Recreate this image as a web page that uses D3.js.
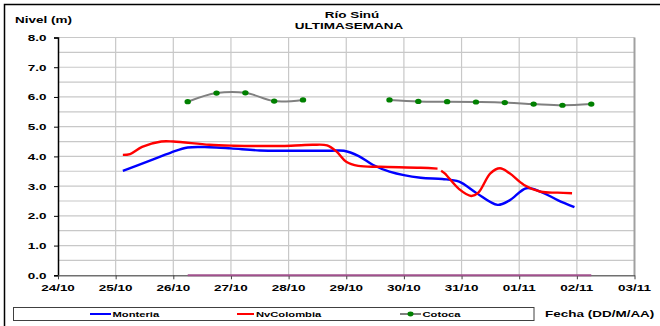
<!DOCTYPE html>
<html>
<head>
<meta charset="utf-8">
<script src="https://cdn.jsdelivr.net/npm/d3@7"></script>
<style>
  html, body { margin: 0; padding: 0; background: #fff; }
  svg { display: block; }
  text { font-family: "Liberation Sans", Arial, sans-serif; font-weight: bold; fill: #000; }
</style>
</head>
<body>
<svg id="chart" width="660" height="326"></svg>
<script>
// ---- data -------------------------------------------------------------
const tickLabels = ["24/10","25/10","26/10","27/10","28/10","29/10","30/10","31/10","01/11","02/11","03/11"];
const yTicks = [0,1,2,3,4,5,6,7,8];

const monteriaTimes = ["25/10 03:00","25/10 14:00","25/10 23:00","26/10 06:00","26/10 15:00","27/10 00:00",
  "27/10 12:00","28/10 00:00","28/10 17:00","28/10 23:00","29/10 05:00","29/10 11:00","29/10 18:00",
  "30/10 07:00","30/10 16:00","30/10 23:00","31/10 06:00","31/10 15:00","31/10 20:00","01/11 03:00",
  "01/11 09:00","01/11 16:00","01/11 23:00"];
const monteriaValues = [3.51,3.85,4.13,4.30,4.31,4.27,4.20,4.19,4.19,4.19,4.02,3.72,3.49,
  3.28,3.24,3.15,2.78,2.37,2.52,2.93,2.81,2.53,2.29];

const nvColombiaTimes = ["25/10 03:00","25/10 06:00","25/10 11:00","25/10 19:00","26/10 00:00","26/10 15:00",
  "27/10 01:00","27/10 12:00","28/10 01:00","28/10 10:00","28/10 16:00","28/10 20:00","29/10 00:00",
  "29/10 05:00","29/10 14:00","30/10 07:00","30/10 14:00","30/10 14:30","30/10 15:30","30/10 17:00",
  "30/10 23:00","31/10 04:00","31/10 07:00","31/10 12:00","31/10 16:00","31/10 20:00","01/11 02:00",
  "01/11 09:00","01/11 16:00","01/11 22:00"];
const nvColombiaValues = [4.05,4.08,4.32,4.50,4.50,4.39,4.36,4.35,4.36,4.39,4.37,4.16,3.82,
  3.68,3.65,3.62,3.59,null,3.52,3.43,2.90,2.67,2.78,3.43,3.60,3.43,3.04,2.81,2.78,2.76];

const cotocaTimes = ["26/10 06:00","26/10 18:00","27/10 06:00","27/10 18:00","28/10 06:00","28/10 18:00",
  "29/10 06:00","29/10 18:00","30/10 06:00","30/10 18:00","31/10 06:00","31/10 18:00","01/11 06:00",
  "01/11 18:00","02/11 06:00"];
const cotocaValues = [5.84,6.13,6.14,5.86,5.90,null,null,5.90,5.85,5.84,5.83,5.81,5.76,5.72,5.76];
const cotocaRefValues = [0,0,0,0,0,0,0,0,0,0,0,0,0,0,0];

// ---- helpers ----------------------------------------------------------
// day offset from 24/10 00:00 for a "DD/MM HH:mm" stamp
function dayOffset(stamp) {
  const [date, time] = stamp.split(" ");
  const [dd, mm] = date.split("/").map(Number);
  const [hh, mi] = time.split(":").map(Number);
  const base = mm === 10 ? dd - 24 : dd + 7; // Oct has 31 days
  return base + (hh + mi / 60) / 24;
}
function series(times, values) {
  return times.map((t, i) => ({ d: dayOffset(t), v: values[i] }));
}

const svg = d3.select("#chart");
const SX = 1.45; // text is drawn horizontally widened

function label(x, y, str, size, anchor, sx) {
  return svg.append("text")
    .attr("transform", `translate(${x},${y}) scale(${sx || SX},1)`)
    .attr("text-anchor", anchor || "start")
    .style("font-size", size + "px")
    .text(str);
}

// ---- scales -----------------------------------------------------------
const x = d3.scaleLinear().domain([0, 10]).range([58, 634.5]);
const y = d3.scaleLinear().domain([0, 8]).range([275.3, 37.5]);

// outer frame
svg.append("rect").attr("x", 4.5).attr("y", 4.5).attr("width", 700).attr("height", 400)
  .attr("fill", "none").attr("stroke", "#000").attr("stroke-width", 1.5);

// grid
const grid = svg.append("g").attr("stroke", "#c8c8c8").attr("stroke-width", 1.2);
grid.selectAll("line.h").data(d3.range(1, 17).map(i => i * 0.5)).join("line")
  .attr("x1", x(0)).attr("x2", x(10)).attr("y1", d => y(d)).attr("y2", d => y(d));
grid.selectAll("line.v").data(d3.range(1, 10)).join("line")
  .attr("x1", d => x(d)).attr("x2", d => x(d)).attr("y1", y(0)).attr("y2", y(8));

// right border of plot
svg.append("line").attr("x1", x(10)).attr("x2", x(10)).attr("y1", y(8)).attr("y2", y(0))
  .attr("stroke", "#a0a0a0").attr("stroke-width", 2);

// axes
const yAxis = svg.append("g").attr("transform", `translate(${x(0)},0)`)
  .call(d3.axisLeft(y).tickValues(yTicks).tickSize(4).tickFormat(""));
yAxis.select(".domain").attr("stroke", "#000").attr("stroke-width", 1.5);
yAxis.selectAll(".tick line").attr("stroke", "#000");

const xAxis = svg.append("g").attr("transform", `translate(0,${y(0)})`)
  .call(d3.axisBottom(x).tickValues(d3.range(0, 11)).tickSize(4).tickSizeOuter(0).tickFormat(""));
xAxis.select(".domain").attr("stroke", "#707070").attr("stroke-width", 1.5);
xAxis.selectAll(".tick line").attr("stroke", "#404040");

yTicks.forEach(v => label(46.5, y(v) + 3.4, v.toFixed(1), 9.3, "end"));
tickLabels.forEach((t, i) => label(x(i), 291, t, 9.3, "middle"));

// titles
label(352, 17.5, "Río Sinú", 9.3, "middle");
label(349, 29, "ULTIMASEMANA", 9.3, "middle");
label(15, 22.5, "Nivel (m)", 9.3, "start");
label(545, 317, "Fecha (DD/M/AA)", 9.3, "start");

// ---- series -----------------------------------------------------------
const lineGen = d3.line()
  .defined(p => p.v !== null)
  .x(p => x(p.d)).y(p => y(p.v))
  .curve(d3.curveCatmullRom.alpha(0.5));

// zero reference for Cotoca
svg.append("path").datum(series(cotocaTimes, cotocaRefValues))
  .attr("d", d3.line().x(p => x(p.d)).y(p => y(p.v)))
  .attr("fill", "none").attr("stroke", "#a0508c").attr("stroke-width", 2);

svg.append("path").datum(series(monteriaTimes, monteriaValues))
  .attr("d", lineGen).attr("fill", "none").attr("stroke", "#0000ff").attr("stroke-width", 2.4);

svg.append("path").datum(series(nvColombiaTimes, nvColombiaValues))
  .attr("d", lineGen).attr("fill", "none").attr("stroke", "#ff0000").attr("stroke-width", 2.4);

const cotoca = series(cotocaTimes, cotocaValues);
svg.append("path").datum(cotoca)
  .attr("d", lineGen).attr("fill", "none").attr("stroke", "#808080").attr("stroke-width", 2);
svg.selectAll("ellipse.cot").data(cotoca.filter(p => p.v !== null)).join("ellipse")
  .attr("cx", p => x(p.d)).attr("cy", p => y(p.v)).attr("rx", 3.2).attr("ry", 2.6)
  .attr("fill", "#008000");

// ---- legend -----------------------------------------------------------
svg.append("rect").attr("x", 13.5).attr("y", 307.5).attr("width", 520.5).attr("height", 13)
  .attr("fill", "#fff").attr("stroke", "#404040").attr("stroke-width", 1);
const legend = [
  { name: "Monteria", color: "#0000ff", x1: 90, x2: 111, tx: 112.5, dot: false },
  { name: "NvColombia", color: "#ff0000", x1: 237, x2: 254, tx: 256, dot: false },
  { name: "Cotoca", color: "#808080", x1: 400, x2: 421, tx: 422.5, dot: true }
];
legend.forEach(l => {
  svg.append("line").attr("x1", l.x1).attr("x2", l.x2).attr("y1", 314).attr("y2", 314)
    .attr("stroke", l.color).attr("stroke-width", 2);
  if (l.dot) svg.append("ellipse").attr("cx", (l.x1 + l.x2) / 2).attr("cy", 314)
    .attr("rx", 3).attr("ry", 2.4).attr("fill", "#008000");
  label(l.tx, 317.3, l.name, 8, "start", 1.4);
});
</script>
</body>
</html>
